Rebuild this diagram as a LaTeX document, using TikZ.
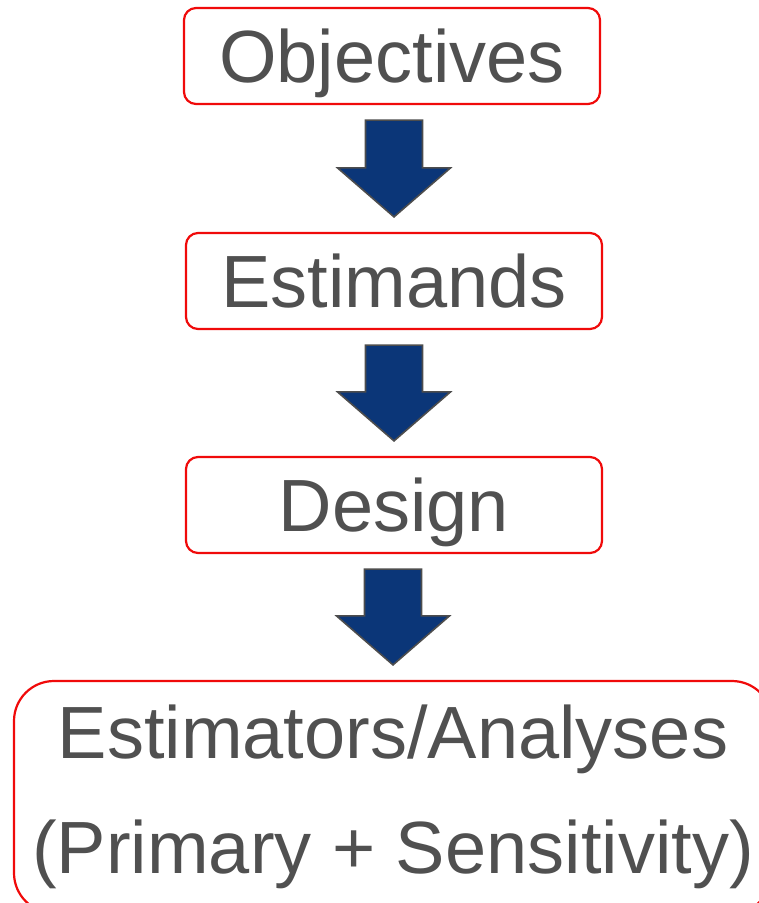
\documentclass[tikz,border=0pt]{standalone}
\usepackage{fontspec}
\setmainfont{Liberation Sans}
\usetikzlibrary{calc}
\definecolor{boxred}{RGB}{240,10,10}
\definecolor{textgray}{RGB}{80,80,80}
\definecolor{arrowblue}{RGB}{11,54,120}
\definecolor{arrowedge}{RGB}{77,77,77}
\tikzset{
  stagebox/.style={draw=boxred, line width=2.2pt, rounded corners=12pt,
    minimum width=416pt, minimum height=96pt, inner sep=0pt,
    text=textgray, font=\fontsize{74}{115}\selectfont},
  oneline/.style={text depth=0pt},
  blockarrow/.style={fill=arrowblue, draw=arrowedge, line width=1.6pt}
}
% block arrow from the bottom of #1 to the top of #2
\newcommand{\stagearrow}[2]{%
  \filldraw[blockarrow] ($(#1.south -| #2.north)+(-28.5,15)$) -- ($(#1.south -| #2.north)+(28.5,15)$)
    -- ($(#2.north)+(28.5,-64)$) -- ($(#2.north)+(56.5,-64)$)
    -- ($(#2.north)+(0,-15)$) -- ($(#2.north)+(-56.5,-64)$)
    -- ($(#2.north)+(-28.5,-64)$) -- cycle;}
\begin{document}
\begin{tikzpicture}[x=1pt,y=-1pt]
\useasboundingbox (0,0) rectangle (759,903);
\node[stagebox, oneline] (obj) at (392,56) {Objectives};
\node[stagebox, oneline] (est) at (394,281) {Estimands};
\node[stagebox, oneline] (des) at (394,505) {Design};
\node[stagebox, minimum width=758pt, minimum height=232pt, rounded corners=40pt,
  align=center] (ana) at (393,797) {Estimators/Analyses\\(Primary + Sensitivity)};
\stagearrow{obj}{est}
\stagearrow{est}{des}
\stagearrow{des}{ana}
\end{tikzpicture}
\end{document}
